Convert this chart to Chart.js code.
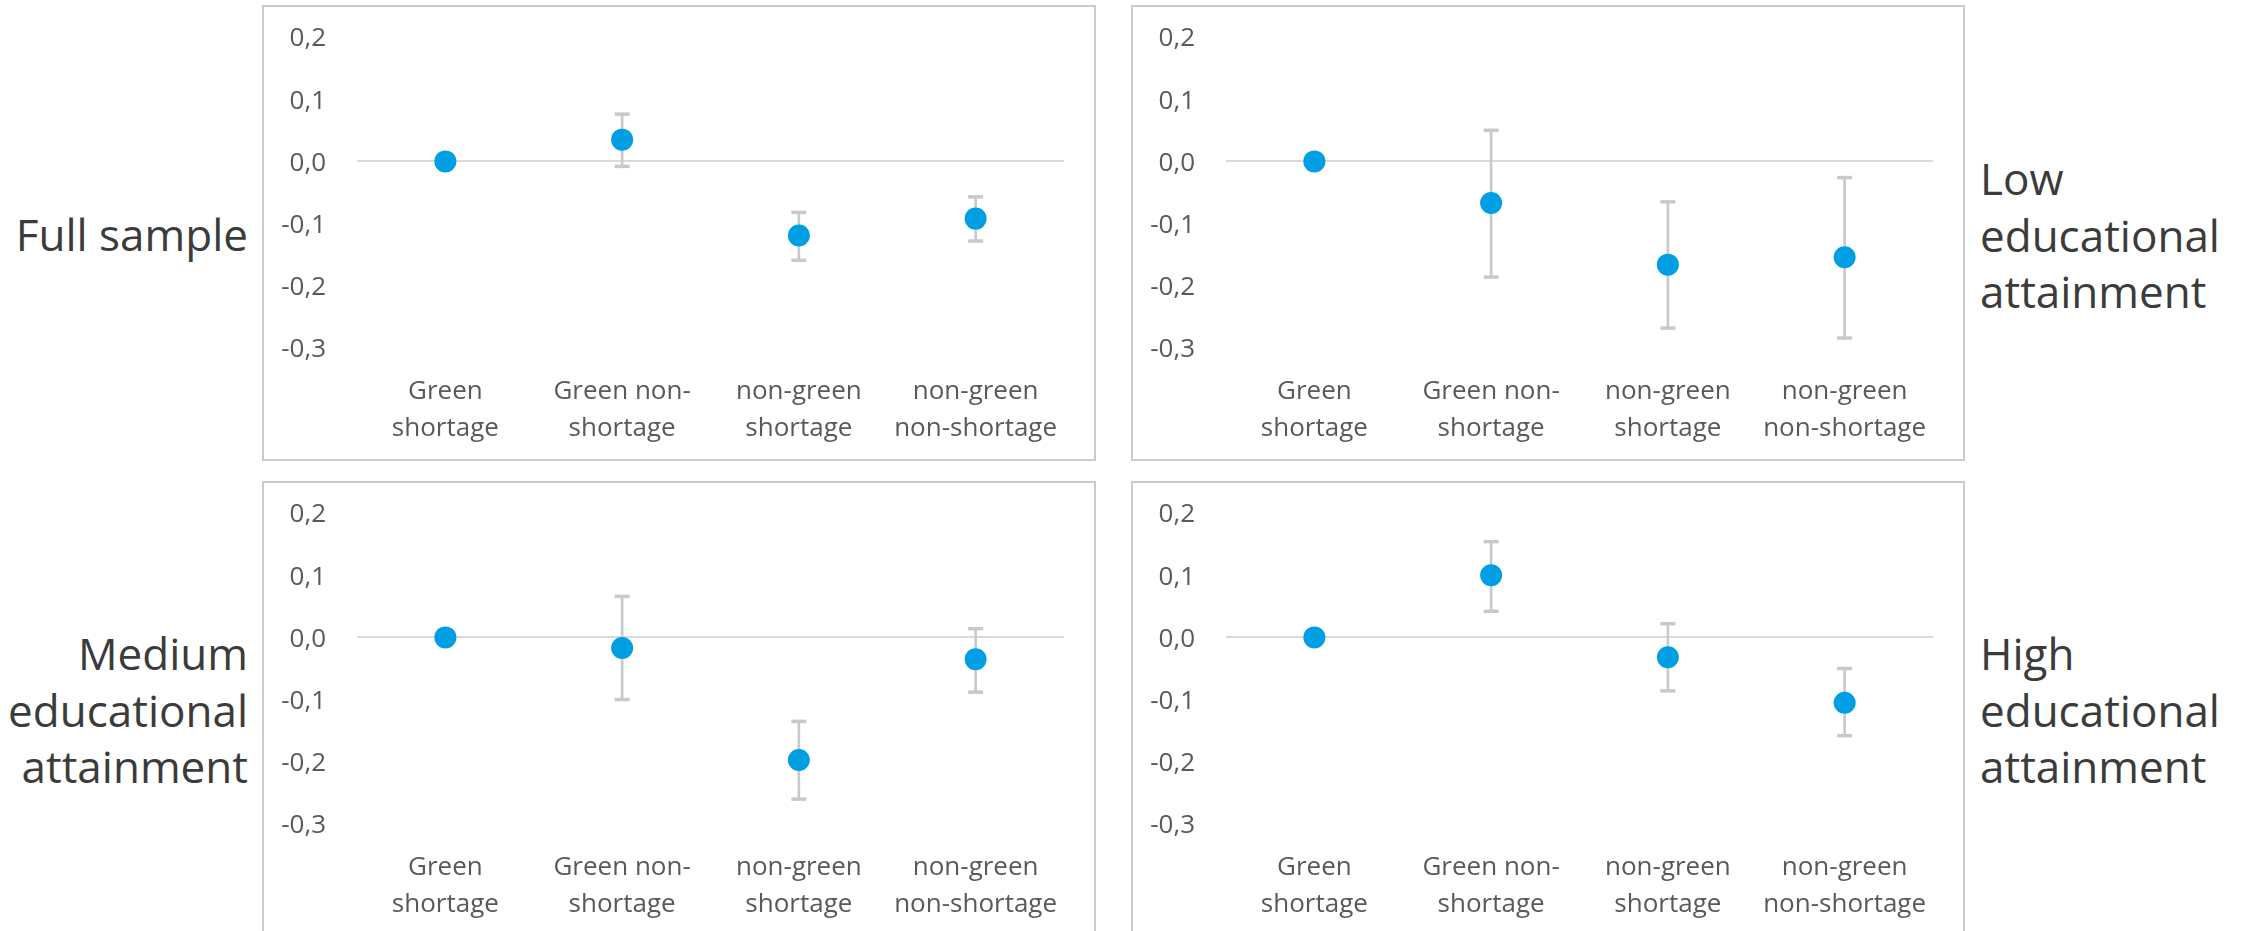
<!DOCTYPE html>
<html>
<head>
<meta charset="utf-8">
<script src="https://cdn.jsdelivr.net/npm/chart.js@4.4.1/dist/chart.umd.min.js"></script>
<style>
  body { margin: 0; background: #fff; width: 2251px; height: 931px; overflow: hidden; position: relative; font-family: 'Open Sans', sans-serif; }
  .panel { position: absolute; width: 834px; height: 456px; border: 2px solid #c6ccd0; box-sizing: border-box; background: #fff; }
  .panel .plot { position: absolute; left: 0; top: 0; width: 830px; height: 452px; }
  .side { position: absolute; font-size: 44px; line-height: 56.5px; color: #3b3b3b; white-space: nowrap; }
  .side.left { left: 0; width: 248px; text-align: right; }
  .side.right { left: 1980px; text-align: left; }
</style>
</head>
<body>

<div class="panel" style="left:262px; top:5px;"><div class="plot"><canvas id="chart-full"></canvas></div></div>
<div class="panel" style="left:1131px; top:5px;"><div class="plot"><canvas id="chart-low"></canvas></div></div>
<div class="panel" style="left:262px; top:481px;"><div class="plot"><canvas id="chart-medium"></canvas></div></div>
<div class="panel" style="left:1131px; top:481px;"><div class="plot"><canvas id="chart-high"></canvas></div></div>

<div class="side left" style="top:206px;">Full sample</div>
<div class="side right" style="top:150px;">Low<br>educational<br>attainment</div>
<div class="side left" style="top:625px;">Medium<br>educational<br>attainment</div>
<div class="side right" style="top:625px;">High<br>educational<br>attainment</div>

<script>
// occupation groups (reference group first)
const categories = [
  ['Green', 'shortage'],
  ['Green non-', 'shortage'],
  ['non-green', 'shortage'],
  ['non-green', 'non-shortage'],
];
const yTickLabels = ['-0,3', '-0,2', '-0,1', '0,0', '0,1', '0,2'];

// point estimates and 95% bounds per sample
const fullEst = [0, 0.035, -0.119, -0.092];
const fullLow = [null, -0.008, -0.159, -0.128];
const fullHigh = [null, 0.076, -0.082, -0.057];

const lowEduEst = [0, -0.067, -0.166, -0.154];
const lowEduLow = [null, -0.186, -0.268, -0.284];
const lowEduHigh = [null, 0.050, -0.065, -0.026];

const medEduEst = [0, -0.017, -0.197, -0.035];
const medEduLow = [null, -0.100, -0.260, -0.088];
const medEduHigh = [null, 0.066, -0.135, 0.014];

const highEduEst = [0, 0.100, -0.032, -0.105];
const highEduLow = [null, 0.042, -0.086, -0.158];
const highEduHigh = [null, 0.154, 0.022, -0.050];

const POINT = '#009fe3';
const WHISKER = '#c5cace';

Chart.defaults.font.family = "'Open Sans', sans-serif";
Chart.defaults.color = '#595959';

function makeChart(id, est, lo, hi) {
  const ranges = lo.map((v, i) => (v === null ? null : [v, hi[i]]));
  return new Chart(document.getElementById(id), {
    type: 'bar',
    data: {
      labels: categories,
      datasets: [
        {
          type: 'line',
          data: est,
          showLine: false,
          pointRadius: 11,
          pointHoverRadius: 11,
          pointBackgroundColor: POINT,
          pointBorderWidth: 0,
          order: 0,
        },
        {
          type: 'line',
          data: hi,
          showLine: false,
          pointStyle: 'line',
          pointRadius: 7.5,
          pointBorderWidth: 3.5,
          pointBorderColor: WHISKER,
          order: 1,
        },
        {
          type: 'line',
          data: lo,
          showLine: false,
          pointStyle: 'line',
          pointRadius: 7.5,
          pointBorderWidth: 3.5,
          pointBorderColor: WHISKER,
          order: 1,
        },
        {
          data: ranges,
          backgroundColor: WHISKER,
          borderWidth: 0,
          barThickness: 2,
          order: 2,
        },
      ],
    },
    options: {
      responsive: true,
      maintainAspectRatio: false,
      animation: false,
      layout: { padding: { top: 30, right: 30, left: 0, bottom: 0 } },
      plugins: { legend: { display: false }, tooltip: { enabled: false } },
      scales: {
        x: {
          offset: true,
          grid: { display: false },
          border: { display: false },
          ticks: {
            padding: 17,
            maxRotation: 0,
            autoSkip: false,
            font: { size: 26, lineHeight: '37px' },
            color: '#595959',
          },
          afterFit: (scale) => { scale.height = 111; },
        },
        y: {
          min: -0.3,
          max: 0.2,
          border: { display: false },
          grid: {
            drawTicks: false,
            lineWidth: 2,
            color: (ctx) => (ctx.tick && Math.abs(ctx.tick.value) < 1e-9 ? '#d9d9d9' : 'rgba(0,0,0,0)'),
          },
          ticks: {
            stepSize: 0.1,
            padding: 31,
            labelOffset: 2,
            font: { size: 26 },
            color: '#595959',
            callback: (value, index) => yTickLabels[index],
          },
          // fixed axis width; tick padding should not push the plot area down
          afterFit: (scale) => {
            scale.width = 93;
            scale.paddingTop = 0;
            scale.paddingBottom = 0;
          },
        },
      },
    },
  });
}

makeChart('chart-full', fullEst, fullLow, fullHigh);
makeChart('chart-low', lowEduEst, lowEduLow, lowEduHigh);
makeChart('chart-medium', medEduEst, medEduLow, medEduHigh);
makeChart('chart-high', highEduEst, highEduLow, highEduHigh);
</script>
</body>
</html>
